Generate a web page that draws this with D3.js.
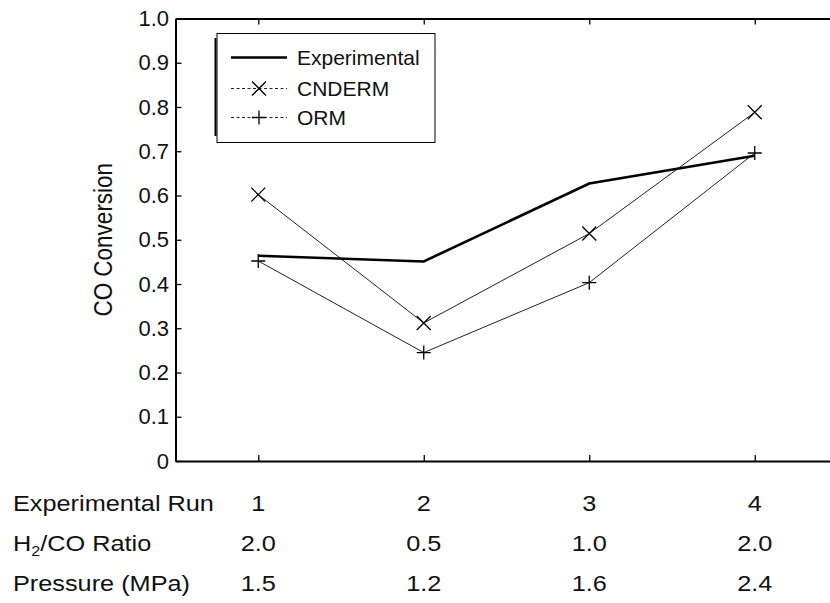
<!DOCTYPE html>
<html>
<head>
<meta charset="utf-8">
<script src="https://cdn.jsdelivr.net/npm/d3@7"></script>
<style>
  html, body { margin: 0; padding: 0; background: #fff; }
  svg { display: block; font-family: "Liberation Sans", Arial, sans-serif; }
</style>
</head>
<body>
<svg id="chart" width="830" height="603"></svg>
<script>
// Experimental runs and their operating conditions
const runs = [1, 2, 3, 4];
const h2coRatio = ["2.0", "0.5", "1.0", "2.0"];
const pressure = ["1.5", "1.2", "1.6", "2.4"];

// CO conversion: measured vs. two model predictions
const experimental = [0.464, 0.451, 0.627, 0.690];
const cnderm = [0.602, 0.312, 0.514, 0.788];
const orm = [0.452, 0.245, 0.403, 0.696];

const yTicks = [0, 0.1, 0.2, 0.3, 0.4, 0.5, 0.6, 0.7, 0.8, 0.9, 1.0];
const yTickLabels = ["0", "0.1", "0.2", "0.3", "0.4", "0.5", "0.6", "0.7", "0.8", "0.9", "1.0"];

const svg = d3.select("#chart");
const plotLeft = 175.5, plotTop = 18.5, plotBottom = 461;
const textStretch = 1.15; // wide lettering used for the labels

const x = d3.scaleLinear().domain([0.5, 4.5]).range([plotLeft, plotLeft + 4 * 165.5]);
const y = d3.scaleLinear().domain([0, 1]).range([plotBottom, plotTop]);

const tickLen = 6;

// axes: left and bottom with inward ticks, plus a top frame line
const yAxis = d3.axisLeft(y).tickValues(yTicks)
  .tickFormat((d, i) => yTickLabels[i]).tickSizeInner(-tickLen).tickSizeOuter(0).tickPadding(6.5);
const gy = svg.append("g").attr("transform", `translate(${plotLeft},0)`).call(yAxis);

const xAxis = d3.axisBottom(x).tickValues(runs).tickFormat("").tickSizeInner(-tickLen).tickSizeOuter(0);
const gx = svg.append("g").attr("transform", `translate(0,${plotBottom})`).call(xAxis);

const xTop = d3.axisTop(x).tickValues(runs).tickFormat("").tickSizeInner(-tickLen).tickSizeOuter(0);
const gt = svg.append("g").attr("transform", `translate(0,${plotTop})`).call(xTop);

[gx, gy, gt].forEach(g => {
  g.select(".domain").attr("stroke", "#000").attr("stroke-width", 2);
  g.selectAll(".tick line").attr("stroke", "#000").attr("stroke-width", 1.3);
});
gy.selectAll(".tick text").attr("font-size", 22).attr("fill", "#111")
  .attr("font-family", "'Liberation Sans', Arial, sans-serif");

// y axis title
svg.append("text")
  .attr("transform", `translate(112,${(plotTop + plotBottom) / 2}) scale(${textStretch},1) rotate(-90)`)
  .attr("text-anchor", "middle")
  .attr("font-size", 22.5).attr("fill", "#111")
  .text("CO Conversion");

// series lines
const line = d3.line().x((d, i) => x(runs[i])).y(d => y(d));

svg.append("path").datum(cnderm).attr("d", line)
  .attr("fill", "none").attr("stroke", "#222").attr("stroke-width", 1);
svg.append("path").datum(orm).attr("d", line)
  .attr("fill", "none").attr("stroke", "#222").attr("stroke-width", 1);
svg.append("path").datum(experimental).attr("d", line)
  .attr("fill", "none").attr("stroke", "#000").attr("stroke-width", 2.6)
  .attr("stroke-linejoin", "miter");

// marker glyphs
const m = 7;
function cross(sel) {
  sel.append("path").attr("d", `M${-m},${-m}L${m},${m}M${-m},${m}L${m},${-m}`)
    .attr("stroke", "#000").attr("stroke-width", 1.3).attr("fill", "none");
}
function plus(sel) {
  sel.append("path").attr("d", `M${-m},0L${m},0M0,${-m}L0,${m}`)
    .attr("stroke", "#000").attr("stroke-width", 1.3).attr("fill", "none");
}

svg.append("g").selectAll("g").data(cnderm).join("g")
  .attr("transform", (d, i) => `translate(${x(runs[i])},${y(d)})`)
  .each(function () { cross(d3.select(this)); });
svg.append("g").selectAll("g").data(orm).join("g")
  .attr("transform", (d, i) => `translate(${x(runs[i])},${y(d)})`)
  .each(function () { plus(d3.select(this)); });

// legend
const lg = svg.append("g");
lg.append("line").attr("x1", 215.5).attr("x2", 215.5).attr("y1", 38).attr("y2", 136)
  .attr("stroke", "#000").attr("stroke-width", 2);
lg.append("rect").attr("x", 217).attr("y", 33.5).attr("width", 218).attr("height", 109)
  .attr("fill", "#fff").attr("stroke", "#000").attr("stroke-width", 1);

const legendItems = [
  { name: "Experimental", y: 57.5, type: "exp" },
  { name: "CNDERM", y: 88.5, type: "cross" },
  { name: "ORM", y: 117.5, type: "plus" }
];
legendItems.forEach(it => {
  if (it.type === "exp") {
    lg.append("line").attr("x1", 231).attr("x2", 287).attr("y1", it.y).attr("y2", it.y)
      .attr("stroke", "#000").attr("stroke-width", 2.6);
  } else {
    lg.append("line").attr("x1", 231).attr("x2", 287).attr("y1", it.y).attr("y2", it.y)
      .attr("stroke", "#222").attr("stroke-width", 1).attr("stroke-dasharray", "3,2.5");
    const g = lg.append("g").attr("transform", `translate(259,${it.y})`);
    if (it.type === "cross") cross(g); else plus(g);
  }
  lg.append("text").attr("x", 297).attr("y", it.y + 7).attr("font-size", 21).attr("fill", "#111")
    .text(it.name);
});

// condition table under the x axis
const rows = [
  { label: "Experimental Run", values: runs.map(String), y: 511 },
  { label: "H2/CO Ratio", values: h2coRatio, y: 551 },
  { label: "Pressure (MPa)", values: pressure, y: 591 }
];
rows.forEach(r => {
  const t = svg.append("text")
    .attr("transform", `translate(13,${r.y}) scale(${textStretch},1)`)
    .attr("font-size", 22).attr("fill", "#111");
  if (r.label === "H2/CO Ratio") {
    t.append("tspan").text("H");
    t.append("tspan").attr("font-size", 14).attr("dy", 5).text("2");
    t.append("tspan").attr("dy", -5).text("/CO Ratio");
  } else {
    t.text(r.label);
  }
  svg.append("g").selectAll("text").data(r.values).join("text")
    .attr("transform", (d, i) => `translate(${x(runs[i])},${r.y}) scale(${textStretch},1)`)
    .attr("text-anchor", "middle").attr("font-size", 22).attr("fill", "#111")
    .text(d => d);
});
</script>
</body>
</html>
